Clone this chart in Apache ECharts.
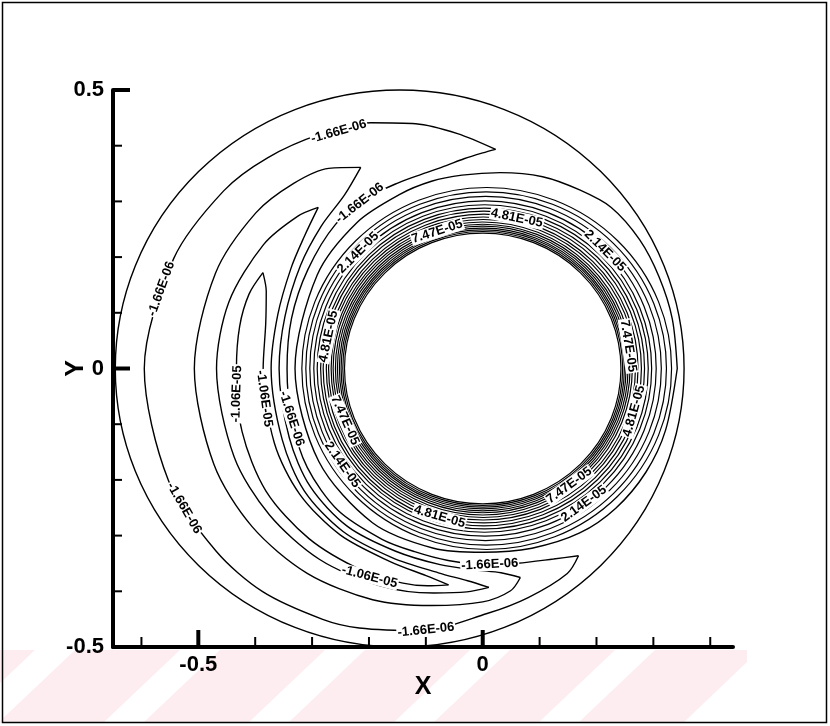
<!DOCTYPE html>
<html>
<head>
<meta charset="utf-8">
<script src="https://cdn.jsdelivr.net/npm/echarts@6/dist/echarts.min.js"></script>
<style>
  html, body { margin: 0; padding: 0; background: #fff; }
  #chart { width: 830px; height: 726px; }
</style>
</head>
<body>
<div id="chart"></div>
<script>
// ---- axes ----
const xRange = [-0.65, 0.44];
const yRange = [-0.5, 0.5];
const xMajorTicks = [-0.5, 0];
const xMajorLabels = ['-0.5', '0'];
const xMinorTicks = [-0.6, -0.4, -0.3, -0.2, -0.1, 0.1, 0.2, 0.3, 0.4];
const yMajorTicks = [-0.5, 0, 0.5];
const yMajorLabels = ['-0.5', '0', '0.5'];
const yMinorTicks = [-0.4, -0.3, -0.2, -0.1, 0.1, 0.2, 0.3, 0.4];

// ---- closed contours around the inner cylinder: [centre x, centre y, radius] ----
const ringContours = [
  [0, 0, 0.243], [0, 0, 0.246], [0, 0, 0.249], [0, 0, 0.252], [0, 0, 0.2555],
  [0, 0, 0.259], [0, 0, 0.263], [0.001, 0, 0.2675], [0.001, 0, 0.272], [0.002, 0, 0.277],
  [0.002, 0, 0.2825], [0.003, 0, 0.288], [0.003, 0, 0.294], [0.004, 0, 0.301],
  [0.005, 0, 0.309], [0.006, 0, 0.317], [0.007, 0, 0.325]
];

// ---- contour following the outer wall: [centre x, centre y, radius] ----
const wallContour = [[-0.146, 0, 0.5]];

// ---- open contours, points as [angle in degrees, distance from origin] ----
const bundleEdge = [
  [0, 0.342], [15, 0.345], [28, 0.351], [40, 0.36], [52, 0.367], [62, 0.363], [73, 0.36],
  [85, 0.353], [96, 0.349], [105, 0.348], [115, 0.345], [130, 0.343], [150, 0.336],
  [180, 0.33], [210, 0.333], [235, 0.338], [255, 0.334], [270, 0.33], [285, 0.334],
  [300, 0.341], [313, 0.343], [327, 0.342], [341, 0.34], [360, 0.342]
];

// -1.66E-06 crescent
const c1Outer = [
  [86.7, 0.394], [96, 0.424], [105, 0.455], [114, 0.483], [124, 0.508], [135, 0.535],
  [145, 0.556], [160, 0.578], [180, 0.595], [200, 0.588], [215, 0.572], [226, 0.557],
  [238, 0.531], [245, 0.514], [257, 0.483], [271, 0.44], [281, 0.419], [292, 0.397], [296.6, 0.376]
];
const c1Inner = [
  [296.6, 0.376], [290, 0.364], [280, 0.355], [271, 0.352], [260, 0.35], [250, 0.35],
  [240, 0.354], [225, 0.36], [210, 0.356], [195, 0.348], [180, 0.344], [165, 0.348],
  [150, 0.355], [135, 0.366], [123, 0.367], [114, 0.365], [107, 0.365], [100, 0.37],
  [95, 0.378], [90, 0.387], [86.7, 0.394]
];

// second crescent
const c2Outer = [
  [120.7, 0.42], [127, 0.45], [135, 0.47], [145, 0.487], [160, 0.5], [180, 0.507],
  [200, 0.503], [215, 0.495], [230, 0.48], [245, 0.458], [258, 0.435], [270, 0.419],
  [277, 0.402], [280, 0.381]
];
const c2Inner = [
  [280, 0.381], [275, 0.368], [268, 0.362], [258, 0.36], [245, 0.362], [230, 0.37],
  [215, 0.37], [200, 0.362], [180, 0.358], [165, 0.36], [150, 0.37], [138, 0.382],
  [128, 0.395], [120.7, 0.42]
];

// third crescent
const c3Outer = [
  [135, 0.409], [140, 0.425], [150, 0.445], [165, 0.462], [180, 0.468], [200, 0.465],
  [215, 0.458], [230, 0.447], [245, 0.43], [258, 0.412], [266, 0.402], [271.6, 0.393]
];
const c3Inner = [
  [271.6, 0.393], [266, 0.382], [258, 0.375], [245, 0.375], [230, 0.382], [215, 0.383],
  [200, 0.375], [180, 0.372], [165, 0.373], [152, 0.382], [143, 0.393], [135, 0.409]
];

// -1.06E-05 crescent
const c4Outer = [
  [156, 0.423], [162, 0.432], [170, 0.434], [180, 0.433], [195, 0.438], [210, 0.44],
  [225, 0.432], [240, 0.42], [250, 0.41], [256, 0.402], [261.2, 0.393]
];
const c4Inner = [
  [261.2, 0.393], [255, 0.385], [245, 0.383], [230, 0.39], [215, 0.393], [200, 0.39],
  [180, 0.386], [168, 0.39], [160, 0.405], [156, 0.423]
];

// ---- contour labels: [x, y, text, angle in degrees] ----
const contourLabels = [
  [-0.253, 0.4255, '-1.66E-06', 16],
  [-0.216, 0.297, '-1.66E-06', 38],
  [-0.219, 0.208, '2.14E-05', 45],
  [-0.080, 0.246, '7.47E-05', 18],
  [0.060, 0.270, '4.81E-05', -12],
  [0.215, 0.211, '2.14E-05', -45],
  [0.256, 0.0405, '7.47E-05', -81],
  [0.266, -0.0764, '4.81E-05', 74],
  [-0.271, 0.0576, '4.81E-05', 78],
  [-0.242, -0.093, '7.47E-05', -66],
  [-0.247, -0.173, '2.14E-05', -55],
  [-0.076, -0.266, '4.81E-05', -16],
  [0.152, -0.210, '7.47E-05', 36],
  [0.178, -0.243, '2.14E-05', 36],
  [-0.565, 0.143, '-1.66E-06', 70],
  [-0.525, -0.2506, '-1.66E-06', -60],
  [-0.0998, -0.4695, '-1.66E-06', 6],
  [0.0123, -0.3518, '-1.66E-06', 3],
  [-0.336, -0.090, '-1.66E-06', -72],
  [-0.4326, -0.0455, '-1.06E-05', 88],
  [-0.384, -0.054, '-1.06E-05', -82],
  [-0.199, -0.374, '-1.06E-05', -15]
];

// ---- helpers ----
const FONT = '"Liberation Sans", Arial, Helvetica, sans-serif';
const RAD = Math.PI / 180;
function polarToXY(list) {
  return list.map(function (p) { return [p[1] * Math.cos(p[0] * RAD), p[1] * Math.sin(p[0] * RAD)]; });
}
function contourLine(list) {
  return {
    type: 'line', data: polarToXY(list), smooth: 0.3, showSymbol: false, symbol: 'none',
    silent: true, z: 3, lineStyle: { color: '#000', width: 1.4 }, emphasis: { disabled: true }
  };
}
function circleSeries(list, width) {
  return {
    type: 'custom', silent: true, z: 3,
    data: list.map(function (c) { return [c[0], c[1]]; }),
    renderItem: function (params, api) {
      const c = list[params.dataIndex];
      const p = api.coord([c[0], c[1]]);
      const s = api.size([c[2], c[2]]);
      return {
        type: 'circle', x: p[0], y: p[1], scaleY: s[1] / s[0],
        shape: { cx: 0, cy: 0, r: s[0] },
        style: { fill: 'none', stroke: '#000', lineWidth: width }
      };
    }
  };
}
function tickSeries(values, horizontal, len, width, labels) {
  return {
    type: 'custom', silent: true, z: 5,
    data: values.map(function (v) { return horizontal ? [v, yRange[0]] : [xRange[0], v]; }),
    renderItem: function (params, api) {
      const p = api.coord([api.value(0), api.value(1)]);
      const children = [{
        type: 'line',
        shape: horizontal
          ? { x1: p[0], y1: p[1], x2: p[0], y2: p[1] - len }
          : { x1: p[0], y1: p[1], x2: p[0] + len, y2: p[1] },
        style: { stroke: '#000', lineWidth: width }
      }];
      if (labels) {
        children.push({
          type: 'text',
          x: horizontal ? p[0] : p[0] - 9,
          y: horizontal ? p[1] + 7 : p[1],
          style: {
            text: labels[params.dataIndex], fill: '#000',
            font: 'bold 22px ' + FONT,
            align: horizontal ? 'center' : 'right',
            verticalAlign: horizontal ? 'top' : 'middle'
          }
        });
      }
      return { type: 'group', children: children };
    }
  };
}

// ---- watermark bands along the bottom ----
const bandShapes = [
  [[-70, 650], [35, 650], [-42, 723], [-147, 723]],
  [[75, 650], [180, 650], [103, 723], [-2, 723]],
  [[220, 650], [325, 650], [248, 723], [143, 723]],
  [[365, 650], [470, 650], [393, 723], [288, 723]],
  [[510, 650], [615, 650], [538, 723], [433, 723]],
  [[655, 650], [747, 650], [747, 662], [683, 723], [578, 723]]
];

const chart = echarts.init(document.getElementById('chart'), null, { renderer: 'canvas', width: 830, height: 726 });

const series = [];
series.push(circleSeries(ringContours, 1.2));
series.push(circleSeries(wallContour, 1.4));
series.push(contourLine(bundleEdge));
[c1Outer, c1Inner, c2Outer, c2Inner, c3Outer, c3Inner, c4Outer, c4Inner].forEach(function (c) {
  series.push(contourLine(c));
});
series.push(tickSeries(xMinorTicks, true, 10, 2, null));
series.push(tickSeries(xMajorTicks, true, 17, 4, xMajorLabels));
series.push(tickSeries(yMinorTicks, false, 9, 2, null));
series.push(tickSeries(yMajorTicks, false, 17, 4, yMajorLabels));
series.push({
  type: 'custom', silent: true, z: 6,
  data: contourLabels.map(function (l) { return [l[0], l[1]]; }),
  renderItem: function (params, api) {
    const l = contourLabels[params.dataIndex];
    const p = api.coord([l[0], l[1]]);
    return {
      type: 'text', x: p[0], y: p[1], rotation: l[3] * RAD,
      style: {
        text: l[2], fill: '#000', font: 'bold 13px ' + FONT,
        align: 'center', verticalAlign: 'middle',
        backgroundColor: '#fff', padding: [0, 1]
      }
    };
  }
});

chart.setOption({
  animation: false,
  backgroundColor: '#fff',
  grid: { left: 113, right: 97, top: 90, bottom: 79, containLabel: false },
  xAxis: {
    type: 'value', min: xRange[0], max: xRange[1],
    name: 'X', nameLocation: 'middle', nameGap: 28,
    nameTextStyle: { color: '#000', fontSize: 25, fontWeight: 'bold', fontFamily: FONT },
    axisLine: { show: true, onZero: false, lineStyle: { color: '#000', width: 4 } },
    axisTick: { show: false }, axisLabel: { show: false }, splitLine: { show: false }
  },
  yAxis: {
    type: 'value', min: yRange[0], max: yRange[1],
    name: 'Y', nameLocation: 'middle', nameGap: 24, nameRotate: 90,
    nameTextStyle: { color: '#000', fontSize: 25, fontWeight: 'bold', fontFamily: FONT },
    axisLine: { show: true, onZero: false, lineStyle: { color: '#000', width: 4 } },
    axisTick: { show: false }, axisLabel: { show: false }, splitLine: { show: false }
  },
  graphic: {
    elements: bandShapes.map(function (pts) {
      return { type: 'polygon', z: -1, silent: true, shape: { points: pts }, style: { fill: '#fdedf0' } };
    }).concat([{
      type: 'rect', z: 100, silent: true,
      shape: { x: 2.5, y: 2.5, width: 824, height: 720 },
      style: { fill: 'none', stroke: '#000', lineWidth: 1.5 }
    }])
  },
  series: series
});
</script>
</body>
</html>
